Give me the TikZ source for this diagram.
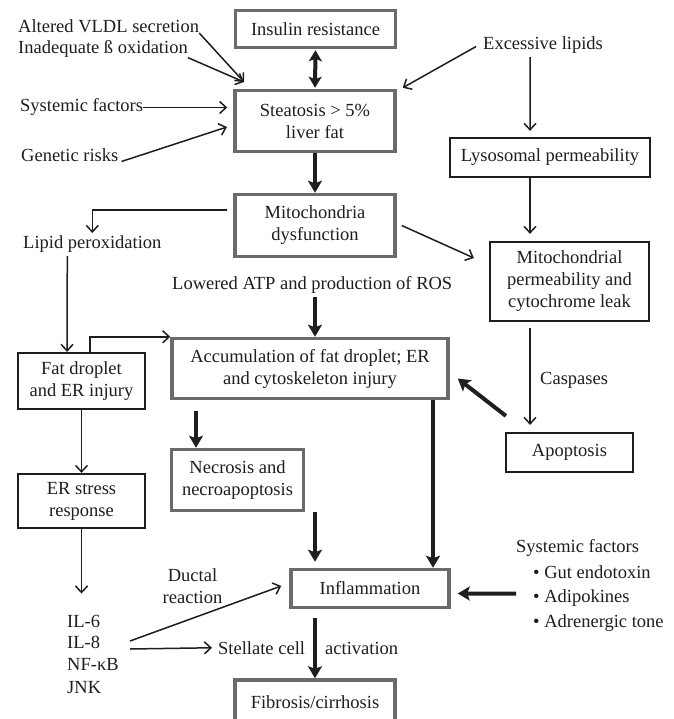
\documentclass[tikz,border=0pt]{standalone}
\usepackage{fontspec}
\setmainfont{Liberation Serif}
\usetikzlibrary{arrows.meta}
\definecolor{boxgray}{HTML}{6B6B6B}
\definecolor{ink}{HTML}{1E1E1E}
\begin{document}
\begin{tikzpicture}[x=1pt,y=-1pt,
  every node/.style={font=\fontsize{18.5}{22}\selectfont, text=ink, inner sep=0pt},
  graybox/.style={draw=boxgray, line width=3.5pt, align=center},
  blackbox/.style={draw=ink, line width=2.2pt, align=center},
  lbl/.style={anchor=base west},
  thinarrow/.style={draw=ink, line width=1.5pt, -{Straight Barb[length=6.5pt,width=12pt]}},
  thickarrow/.style={draw=ink, line width=4pt, -{Stealth[length=12pt,width=14pt,inset=2.5pt]}},
  thickboth/.style={draw=ink, line width=4pt, {Stealth[length=11pt,width=13pt,inset=2.5pt]}-{Stealth[length=11pt,width=13pt,inset=2.5pt]}}
]
\useasboundingbox (0,0) rectangle (673,719);
\fill[white] (0,0) rectangle (673,719);

% gray boxes
\node[graybox, minimum width=160pt, minimum height=37pt] (ins) at (315.5,29) {Insulin resistance};
\node[graybox, minimum width=160pt, minimum height=61pt] (ste) at (315,121) {Steatosis > 5\%\\liver fat};
\node[graybox, minimum width=160pt, minimum height=62pt] (mit) at (315,225.5) {Mitochondria\\dysfunction};
\node[graybox, minimum width=276pt, minimum height=60pt] (acc) at (310,368.5) {Accumulation of fat droplet; ER\\and cytoskeleton injury};
\node[graybox, minimum width=132pt, minimum height=61pt] (nec) at (237.5,480) {Necrosis and\\necroapoptosis};
\node[graybox, minimum width=158pt, minimum height=38pt] (inf) at (370,588.5) {Inflammation};
\node[graybox, minimum width=160pt, minimum height=44pt] (fib) at (315,702) {Fibrosis/cirrhosis};

% black boxes
\node[blackbox, minimum width=200pt, minimum height=39pt] (lys) at (550,157.5) {Lysosomal permeability};
\node[blackbox, minimum width=159pt, minimum height=79pt] (mpm) at (569.5,281.5) {Mitochondrial\\permeability and\\cytochrome leak};
\node[blackbox, minimum width=127pt, minimum height=56pt] (fat) at (81.5,381) {Fat droplet\\and ER injury};
\node[blackbox, minimum width=127pt, minimum height=39pt] (apo) at (569.5,452.5) {Apoptosis};
\node[blackbox, minimum width=127pt, minimum height=54pt] (ers) at (81.5,501) {ER stress\\response};

% labels
\node[lbl] (alt1) at (18,33) {Altered VLDL secretion};
\node[lbl] (alt2) at (18,53.5) {Inadequate ß oxidation};
\node[lbl] (sysL) at (20,112) {Systemic factors};
\node[lbl] (gen) at (21,161.5) {Genetic risks};
\node[lbl] (exc) at (483,50) {Excessive lipids};
\node[lbl] (lip) at (23,248) {Lipid peroxidation};
\node[lbl] (low) at (172,289) {Lowered ATP and production of ROS};
\node[lbl] (cas) at (540,384) {Caspases};
\node[align=center] (duc) at (192.5,586) {Ductal\\reaction};
\node[lbl] (il6) at (67,627) {IL-6};
\node[lbl] (il8) at (67,648.5) {IL-8};
\node[lbl] (nfk) at (67,670.5) {NF-κB};
\node[lbl] (jnk) at (67,693) {JNK};
\node[lbl] (stel) at (218,654) {Stellate cell};
\node[lbl] (act) at (325,654) {activation};
\node[lbl] (sysR) at (516,552) {Systemic factors};
\node[lbl] (b1) at (533,578) {\textbullet\ Gut endotoxin};
\node[lbl] (b2) at (533,602) {\textbullet\ Adipokines};
\node[lbl] (b3) at (533,627) {\textbullet\ Adrenergic tone};

\coordinate (ptA) at (244,82);
\coordinate (ptG) at (227,127);
\coordinate (ilA) at (130,641);
\coordinate (ilB) at (130,649);

% thin arrows
\draw[thinarrow] (alt1.base east) -- (ptA);
\draw[thinarrow] (alt2.south east) -- (ptA);
\draw[thinarrow, shorten >=6pt] (sysL.east) -- (sysL.east -| ste.west);
\draw[thinarrow] ([xshift=3pt]gen.base east) -- (ptG);
\draw[thinarrow] ([xshift=-7pt,yshift=-1pt]exc.west) -- ([xshift=6pt,yshift=1pt]ste.north east);
\draw[thinarrow, shorten >=6pt] ([xshift=-13pt,yshift=-3pt]exc.south) -- ([xshift=-20pt]lys.north);
\draw[thinarrow, shorten >=2pt] ([xshift=-6pt,yshift=15.5pt]mit.west) -| (lip.north);
\draw[thinarrow] ([xshift=-25pt,yshift=-4pt]lip.south) -- ([xshift=-14.5pt]fat.north);
\draw[thinarrow] ([xshift=8.5pt]fat.north) |- (acc.north west);
\draw[thinarrow] ([xshift=5pt]mit.east) -- ([xshift=-15pt,yshift=23.5pt]mpm.west);
\draw[thinarrow, shorten >=7pt] ([xshift=-20pt]lys.south) -- ([xshift=-39.5pt]mpm.north);
\draw[thinarrow, shorten <=6pt, shorten >=7pt] ([xshift=-39.5pt]mpm.south) -- ([xshift=-39.5pt]apo.north);
\draw[thinarrow] (fat.south) -- (ers.north);
\draw[thinarrow, shorten >=21pt] (ers.south) -- (ers.south |- il6.north);
\draw[thinarrow] (ilA) -- ([xshift=-8pt,yshift=2.5pt]inf.west);
\draw[thinarrow, shorten >=6pt] (ilB) -- (stel.west);

% thick arrows
\draw[thickboth, shorten <=1pt, shorten >=1pt] (ins.south) -- (ste.north);
\draw[thickarrow] (ste.south) -- (mit.north);
\draw[thickarrow] ([yshift=-4pt]low.south -| mit.south) -- (acc.north -| mit.south);
\draw[thickarrow] ([xshift=1pt,yshift=16pt]apo.north west) -- ([xshift=8pt,yshift=-10pt]acc.east);
\draw[thickarrow] ([xshift=-114pt,yshift=-11pt]acc.south) -- ([xshift=-41.5pt]nec.north);
\draw[thickarrow] ([xshift=123pt]acc.south) -- ([xshift=63pt]inf.north);
\draw[thickarrow, shorten >=6pt] ([xshift=77.5pt]nec.south) -- ([xshift=-55pt]inf.north);
\draw[thickarrow] ([xshift=-55pt,yshift=-9pt]inf.south) -- (fib.north);
\draw[thickarrow] ([xshift=-17pt,yshift=4pt]b2.west) -- ([xshift=7pt,yshift=-5pt]inf.east);
\end{tikzpicture}
\end{document}
